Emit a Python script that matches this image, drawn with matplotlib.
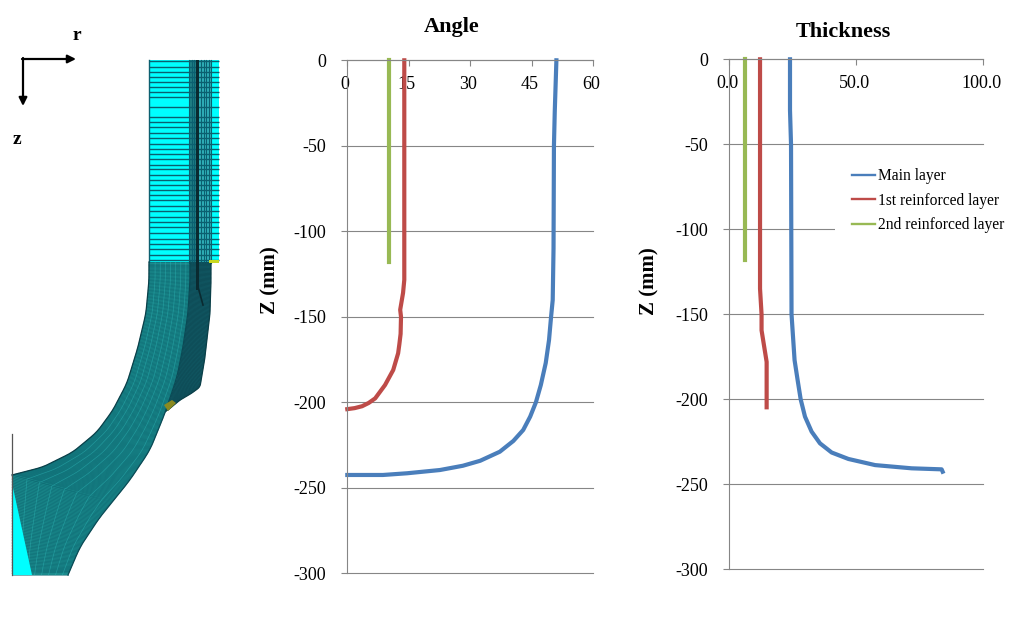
import numpy as np
import matplotlib
matplotlib.use("Agg")
import matplotlib.pyplot as plt
from matplotlib.lines import Line2D
from matplotlib.transforms import ScaledTranslation

plt.rcParams['font.family'] = ['Liberation Serif', 'DejaVu Serif']
plt.rcParams['axes.unicode_minus'] = False

# ---------- chart data ----------
series_names = ["Main layer", "1st reinforced layer", "2nd reinforced layer"]
series_colors = ["#4A7EBB", "#BE4B48", "#98B954"]

angle_main_val = [51.0, 50.6, 50.4, 50.3, 50.1, 49.7, 49.2, 48.4, 47.2, 46.0, 44.6, 42.9, 40.5,
                  37.2, 32.4, 28.2, 22.6, 14.6, 8.7, 0.0]
angle_main_z = [0, -30, -50, -110, -140.2, -150, -163.6, -177, -189.9, -200, -208.4, -216.2, -222.6,
                -228.9, -234.2, -237.1, -239.6, -241.5, -242.5, -242.5]
angle_r1_val = [13.9, 13.9, 13.6, 12.9, 13.1, 13.0, 12.7, 12.4, 11.2, 9.2, 6.8, 5.2, 3.6, 1.8, 0.0]
angle_r1_z = [0, -128.4, -136, -145.9, -150, -160, -166, -171.3, -181.1, -189.9, -197.7, -200.4, -202.3, -203.4, -204]
angle_r2_val = [10.2, 10.2]
angle_r2_z = [0, -118]

thick_main_val = [23.9, 23.9, 24.3, 24.5, 25.7, 26.9, 28.1, 29.8, 32.4, 35.7, 40.3, 46.9, 57.4,
                  71.8, 83.6, 84.0]
thick_main_z = [0, -30, -50, -150, -177, -188.7, -200, -210.2, -219, -225.9, -231.3, -235.1, -238.7,
                -240.6, -241.2, -242.6]
thick_r1_val = [12.1, 12.1, 12.7, 12.7, 14.7, 14.7]
thick_r1_z = [0, -135, -150, -159.4, -178, -204.7]
thick_r2_val = [6.2, 6.2]
thick_r2_z = [0, -118]

angle_ticks = [0, 15, 30, 45, 60]
thick_ticks = [0, 50, 100]
thick_tick_labels = ["0.0", "50.0", "100.0"]
z_ticks = [0, -50, -100, -150, -200, -250, -300]

# ---------- mesh sketch outline (pixel positions of the left panel) ----------
inner_x = [149, 149, 146, 138, 127, 113, 97, 73, 43, 12]
inner_y = [262, 280, 313, 347, 383, 410, 432, 452, 467, 475]
outer_x = [190, 190, 188, 183, 177, 165, 150, 130, 100, 80, 68]
outer_y = [262, 280, 313, 347, 377, 413, 450, 480, 517, 547, 575]
shell_x = [211, 211, 210, 205, 200, 192, 180, 168]
shell_y = [262, 280, 313, 357, 387, 393, 400, 410]
mesh_rows = [61, 66.7, 71.7, 76.7, 81.7, 86.7, 92.3, 97.3, 106.7, 116.7, 121.7, 127.3,
             133.3, 138.3, 144, 149, 154, 159.3, 164.7, 169.3, 174.7, 180, 185, 190,
             195, 200, 205.7, 210.7, 216.7, 221.7, 227.3, 233.3, 238.7, 244, 249.3,
             255, 260]
mesh_cols = [189, 191.5, 194, 201, 203.5, 206, 208.5, 211]


def smooth_path(xs, ys, n=260, win=15):
    """Resample an outline by arc length and round off its corners, keeping the ends."""
    xs, ys = np.asarray(xs, float), np.asarray(ys, float)
    d = np.r_[0, np.cumsum(np.hypot(np.diff(xs), np.diff(ys)))]
    t = np.linspace(0, d[-1], n)
    x, y = np.interp(t, d, xs), np.interp(t, d, ys)
    k = np.ones(win) / win
    px = np.r_[[x[0]] * win, x, [x[-1]] * win]
    py = np.r_[[y[0]] * win, y, [y[-1]] * win]
    sx_, sy_ = np.convolve(px, k, "same")[win:-win], np.convolve(py, k, "same")[win:-win]
    sx_[0], sy_[0], sx_[-1], sy_[-1] = xs[0], ys[0], xs[-1], ys[-1]
    return sx_, sy_


W, H = 1022, 619
fig = plt.figure(figsize=(W / 100, H / 100), dpi=100, facecolor="white")

# ---------- left panel ----------
bg = fig.add_axes([0, 0, 1, 1], zorder=0)
bg.set_xlim(0, W)
bg.set_ylim(H, 0)
bg.axis("off")

DARK = "#0B6070"
bg.fill_between([149, 219], 60, 263, color="#00FFFF", lw=0)
bg.fill_between([189, 196], 60, 263, color="#1F7F85", lw=0)
bg.fill_between([199, 211], 60, 263, color="#30B0B8", lw=0)
for y in mesh_rows:
    bg.plot([149, 219], [y, y], color=DARK, lw=1.0, solid_capstyle="butt")
for x in mesh_cols:
    bg.plot([x, x], [60, 263], color=DARK, lw=0.8)
bg.plot([149, 149], [60, 262], color=DARK, lw=1)

ix1, iy1 = smooth_path(inner_x, inner_y, n=195, win=11)
ix = np.r_[ix1, np.full(65, 12.0)]
iy = np.r_[iy1, np.linspace(475, 575, 65)]
ox, oy = smooth_path(outer_x, outer_y)
sx, sy = smooth_path(shell_x, shell_y, n=260, win=11)
bsx, bsy = smooth_path(outer_x[:6], outer_y[:6], n=260, win=11)

# reinforcement shell
bg.fill(np.r_[sx, bsx[::-1]], np.r_[sy, bsy[::-1]], color="#125B66", lw=0)
for a, b, c, d in zip(sx[::2], sy[::2], bsx[::2], bsy[::2]):
    bg.plot([a, c], [b, d], color="#0B3F4A", lw=0.4, alpha=0.8)

# main body
bg.fill(np.r_[ix, ox[::-1]], np.r_[iy, oy[::-1]], color="#1B8A8C", lw=0)
for a, b, c, d in zip(ix, iy, ox, oy):
    bg.plot([a, c], [b, d], color="#0C6670", lw=0.5, alpha=0.75)
for f in np.linspace(0.15, 0.9, 7):
    bg.plot(ix + (ox - ix) * f, iy + (oy - iy) * f, color="#35C8C8", lw=0.5, alpha=0.4)
bg.fill([12, 12, 32], [483, 575, 575], color="#00FFFF", lw=0, zorder=3)
bg.plot(ix1, iy1, color="#0A3F48", lw=0.9, zorder=4)
bg.plot(ox, oy, color="#0A4A55", lw=0.9, zorder=4)
bg.plot(sx, sy, color="#0A3F48", lw=0.9, zorder=4)
bg.fill([164, 172, 176, 168], [405, 400, 403, 411], color="#8A8A20", lw=0, zorder=4)
bg.plot([12, 12], [434, 575], color="#555555", lw=0.9, zorder=4)

bg.fill_between([196, 199], 60, 290, color="#0A2A30", lw=0, zorder=4)
bg.plot([197.5, 203], [285, 305], color="#0A2A30", lw=1.2, zorder=4)
bg.fill_between([209, 219], 259.5, 263, color="#C8D820", lw=0, zorder=4)

# axes arrows
bg.annotate("", xy=(76, 59), xytext=(22, 59),
            arrowprops=dict(arrowstyle="-|>", color="black", lw=1.6, mutation_scale=12,
                            shrinkA=0, shrinkB=0))
bg.annotate("", xy=(23, 106), xytext=(23, 58),
            arrowprops=dict(arrowstyle="-|>", color="black", lw=1.6, mutation_scale=12,
                            shrinkA=0, shrinkB=0))
bg.text(77, 35, "r", fontsize=14, fontweight="bold", ha="center", va="center")
bg.text(17, 140, "z", fontsize=14, fontweight="bold", ha="center", va="center")


# ---------- charts ----------
def make_axes(l, r, t, b):
    return fig.add_axes([l / W, 1 - b / H, (r - l) / W, (b - t) / H], facecolor="none", zorder=2)


def style(ax, xlim, xticks, xlabels, title, tx, ty, lx, ly):
    ax.set_xlim(*xlim)
    ax.set_ylim(-300, 0)
    for name in ("right", "bottom"):
        ax.spines[name].set_visible(False)
    ax.spines["left"].set_color(GRID)
    ax.spines["top"].set_color(GRID)
    ax.spines["left"].set_linewidth(0.8)
    ax.spines["top"].set_linewidth(0.8)
    ax.xaxis.tick_top()
    ax.set_xticks(xticks)
    ax.set_xticklabels(xlabels)
    ax.set_yticks(z_ticks)
    ax.tick_params(axis="x", direction="in", length=4.5, width=0.8, color=GRID,
                   labelsize=13, pad=-23.5)
    ax.tick_params(axis="y", direction="out", length=4, width=0.8, color=GRID,
                   labelsize=13, pad=11)
    ax.grid(axis="y", color=GRID, lw=0.8)
    for g in ax.get_ygridlines():
        g.set_clip_on(False)
    ax.set_axisbelow(True)
    shift = ScaledTranslation(-2 / 72 * 0.72, 0, fig.dpi_scale_trans)
    for lab in ax.get_xticklabels():
        lab.set_transform(lab.get_transform() + shift)
    ax.set_title(title, fontsize=16, fontweight="bold", x=tx, y=ty, va="center", pad=0)
    ax.set_ylabel("Z (mm)", fontsize=15, fontweight="bold")
    ax.yaxis.set_label_coords(lx, ly)


GRID = "#868686"
LW = 3.0

ax1 = make_axes(347.3, 593.3, 60.3, 573.3)
style(ax1, (0, 60), angle_ticks, [str(v) for v in angle_ticks], "Angle",
      0.4256, 1.0648, -0.2735, 0.5717)
ax1.plot(angle_main_val, angle_main_z, color=series_colors[0], lw=LW, clip_on=False)
ax1.plot(angle_r1_val, angle_r1_z, color=series_colors[1], lw=LW, clip_on=False)
ax1.plot(angle_r2_val, angle_r2_z, color=series_colors[2], lw=LW, clip_on=False)

ax2 = make_axes(729.3, 983.3, 59.3, 569.3)
style(ax2, (0, 100), thick_ticks, thick_tick_labels, "Thickness",
      0.4476, 1.0535, -0.273, 0.565)
ax2.plot(thick_main_val, thick_main_z, color=series_colors[0], lw=LW, clip_on=False)
ax2.plot(thick_r1_val, thick_r1_z, color=series_colors[1], lw=LW, clip_on=False)
ax2.plot(thick_r2_val, thick_r2_z, color=series_colors[2], lw=LW, clip_on=False)

handles = [Line2D([], [], color=c, lw=1.7) for c in series_colors]
leg = ax2.legend(handles, series_names, loc="upper left",
                 bbox_to_anchor=(835 / W, 1 - 151 / H), bbox_transform=fig.transFigure,
                 borderaxespad=0, frameon=True, fancybox=False, framealpha=1,
                 facecolor="white", edgecolor="none", fontsize=11.2,
                 handlelength=1.5, handletextpad=0.15, labelspacing=0.55, borderpad=1.1)
leg.set_zorder(5)

fig.savefig("out.png", dpi=100, facecolor="white")
